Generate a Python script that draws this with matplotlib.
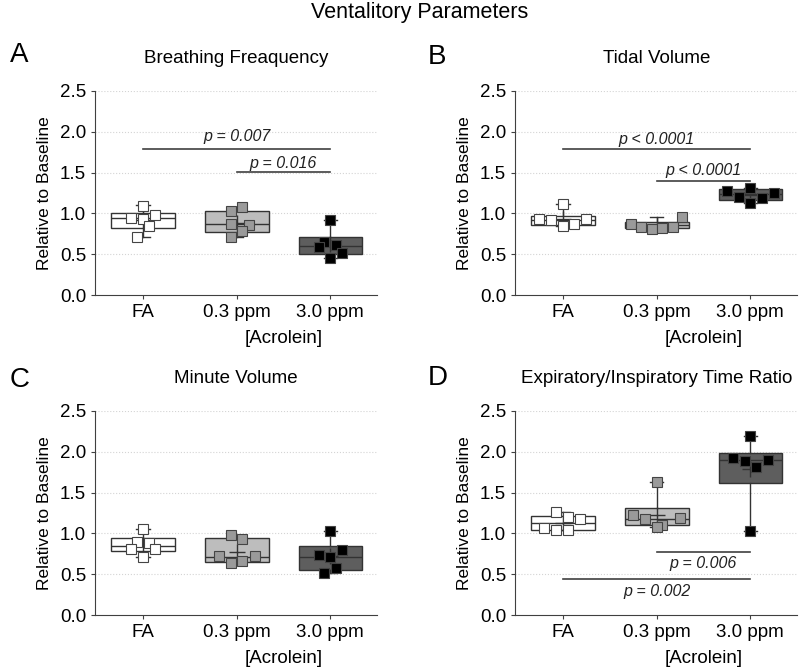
import numpy as np
import matplotlib
matplotlib.use("Agg")
import matplotlib.pyplot as plt

plt.rcParams["font.family"] = ["Liberation Sans", "DejaVu Sans"]

groups = ["FA", "0.3 ppm", "3.0 ppm"]

# Breathing frequency
bf_points = [[0.94, 1.09, 0.927, 0.977, 0.844, 0.714],
             [1.027, 1.073, 0.866, 0.862, 0.786, 0.714],
             [0.918, 0.652, 0.613, 0.519, 0.449, 0.592]]
bf_xoff = [[-0.13, 0, 0, 0.125, 0.06, -0.065],
           [-0.06, 0.06, -0.06, 0.13, 0.06, -0.06],
           [0, -0.065, 0.065, 0.125, 0, -0.125]]
bf_q1 = [0.816, 0.767, 0.498]
bf_med = [0.939, 0.865, 0.60]
bf_q3 = [1.007, 1.032, 0.714]
bf_lo = [0.714, 0.714, 0.449]
bf_hi = [1.098, 1.073, 0.918]
bf_pvals = [(0, 2, 1.795, "p = 0.007", 1.94), (1, 2, 1.51, "p = 0.016", 1.61)]

# Tidal volume
tv_points = [[1.114, 0.93, 0.918, 0.93, 0.848, 0.864],
             [0.866, 0.833, 0.812, 0.825, 0.833, 0.951],
             [1.276, 1.203, 1.317, 1.183, 1.253, 1.133]]
tv_xoff = [[0, -0.26, -0.13, 0.25, 0, 0.12],
           [-0.27, -0.17, -0.05, 0.06, 0.17, 0.27],
           [-0.25, -0.125, 0, 0.125, 0.25, 0]]
tv_q1 = [0.857, 0.824, 1.163]
tv_med = [0.918, 0.857, 1.236]
tv_q3 = [0.971, 0.89, 1.293]
tv_lo = [0.848, 0.812, 1.133]
tv_hi = [1.114, 0.951, 1.317]
tv_pvals = [(0, 2, 1.787, "p < 0.0001", 1.90), (1, 2, 1.40, "p < 0.0001", 1.52)]

# Minute volume
mv_points = [[1.049, 0.897, 0.885, 0.815, 0.803, 0.714],
             [0.979, 0.930, 0.722, 0.722, 0.632, 0.656],
             [1.028, 0.73, 0.71, 0.796, 0.571, 0.51]]
mv_xoff = [[0, -0.065, 0.06, -0.13, 0.125, 0],
           [-0.06, 0.06, -0.19, 0.2, -0.06, 0.06],
           [0, -0.125, 0, 0.125, 0.065, -0.065]]
mv_q1 = [0.783, 0.653, 0.551]
mv_med = [0.845, 0.714, 0.714]
mv_q3 = [0.938, 0.946, 0.848]
mv_lo = [0.714, 0.632, 0.51]
mv_hi = [1.049, 0.979, 1.028]
mv_pvals = []

# Expiratory / inspiratory time ratio
ei_points = [[1.265, 1.203, 1.18, 1.07, 1.04, 1.04],
             [1.632, 1.22, 1.175, 1.19, 1.10, 1.073],
             [2.19, 1.918, 1.889, 1.897, 1.81, 1.028]]
ei_xoff = [[-0.07, 0.055, 0.18, -0.2, -0.07, 0.055],
           [0, -0.25, -0.125, 0.25, 0.055, 0],
           [0, -0.185, -0.06, 0.19, 0.06, 0]]
ei_q1 = [1.04, 1.10, 1.62]
ei_med = [1.122, 1.175, 1.897]
ei_q3 = [1.216, 1.306, 1.991]
ei_lo = [1.04, 1.073, 1.028]
ei_hi = [1.265, 1.632, 2.19]
ei_pvals = [(1, 2, 0.775, "p = 0.006", 0.633), (0, 2, 0.445, "p = 0.002", 0.286)]

box_colors = ["white", "#bdbdbd", "#5e5e5e"]
point_colors = ["white", "#9a9a9a", "black"]
edge = "#333333"


def draw_panel(ax, title, points, xoff, q1, med, q3, lo, hi, pvals):
    stats = []
    for i in range(3):
        stats.append({"q1": q1[i], "med": med[i], "q3": q3[i],
                      "whislo": lo[i], "whishi": hi[i],
                      "mean": np.mean(points[i]), "fliers": []})
    bp = ax.bxp(stats, positions=[0, 1, 2], widths=0.68, patch_artist=True,
                showmeans=True, capwidths=0.14,
                boxprops=dict(edgecolor=edge, linewidth=1.0),
                medianprops=dict(color=edge, linewidth=1.0),
                whiskerprops=dict(color=edge, linewidth=1.0),
                capprops=dict(color=edge, linewidth=1.0),
                meanprops=dict(marker="+", markeredgecolor=edge, markersize=12,
                               markeredgewidth=1.0))
    for patch, c in zip(bp["boxes"], box_colors):
        patch.set_facecolor(c)
    for i in range(3):
        xs = i + np.array(xoff[i])
        ax.plot(xs, points[i], linestyle="none", marker="s", markersize=6.5,
                markerfacecolor=point_colors[i], markeredgecolor="#444444",
                markeredgewidth=0.8, zorder=5)

    for i, j, y, txt, ty in pvals:
        ax.plot([i, j], [y, y], color="#404040", linewidth=1.2)
        ax.text((i + j) / 2, ty, txt, style="italic", fontsize=11.5,
                ha="center", va="center", color="#222222")

    ax.set_xlim(-0.51, 2.5)
    ax.set_ylim(0, 2.5)
    ax.set_yticks([0, 0.5, 1.0, 1.5, 2.0, 2.5])
    ax.set_yticklabels(["0.0", "0.5", "1.0", "1.5", "2.0", "2.5"])
    ax.set_xticks([0, 1, 2])
    ax.set_xticklabels(groups)
    ax.tick_params(labelsize=13.5, length=3, color="#404040")
    for y in [0.5, 1.0, 1.5, 2.0, 2.5]:
        ax.axhline(y, color="#d4d4d4", linestyle=":", linewidth=0.8, zorder=0)
    ax.spines["top"].set_visible(False)
    ax.spines["right"].set_visible(False)
    ax.spines["left"].set_color("#404040")
    ax.spines["bottom"].set_color("#404040")
    ax.set_ylabel("Relative to Baseline", fontsize=12.5, labelpad=6)
    ax.set_xlabel("[Acrolein]", fontsize=13.5)
    ax.xaxis.set_label_coords(0.667, -0.17)
    ax.set_title(title, fontsize=13.5, pad=20)


fig = plt.figure(figsize=(8, 6.72), dpi=100)
w, h = 0.3525, 0.3036
axA = fig.add_axes([0.119, 0.561, w, h])
axB = fig.add_axes([0.644, 0.561, w, h])
axC = fig.add_axes([0.119, 0.0848, w, h])
axD = fig.add_axes([0.644, 0.0848, w, h])

draw_panel(axA, "Breathing Freaquency", bf_points, bf_xoff, bf_q1, bf_med, bf_q3, bf_lo, bf_hi, bf_pvals)
draw_panel(axB, "Tidal Volume", tv_points, tv_xoff, tv_q1, tv_med, tv_q3, tv_lo, tv_hi, tv_pvals)
draw_panel(axC, "Minute Volume", mv_points, mv_xoff, mv_q1, mv_med, mv_q3, mv_lo, mv_hi, mv_pvals)
draw_panel(axD, "Expiratory/Inspiratory Time Ratio", ei_points, ei_xoff, ei_q1, ei_med, ei_q3, ei_lo, ei_hi, ei_pvals)

fig.text(0.524, 0.981, "Ventalitory Parameters", fontsize=15.5, ha="center", va="center")
fig.text(0.012, 1 - 55 / 672, "A", fontsize=20, va="center")
fig.text(0.535, 1 - 57 / 672, "B", fontsize=20, va="center")
fig.text(0.012, 1 - 380 / 672, "C", fontsize=20, va="center")
fig.text(0.535, 1 - 378 / 672, "D", fontsize=20, va="center")

fig.savefig("out.png", dpi=100)
